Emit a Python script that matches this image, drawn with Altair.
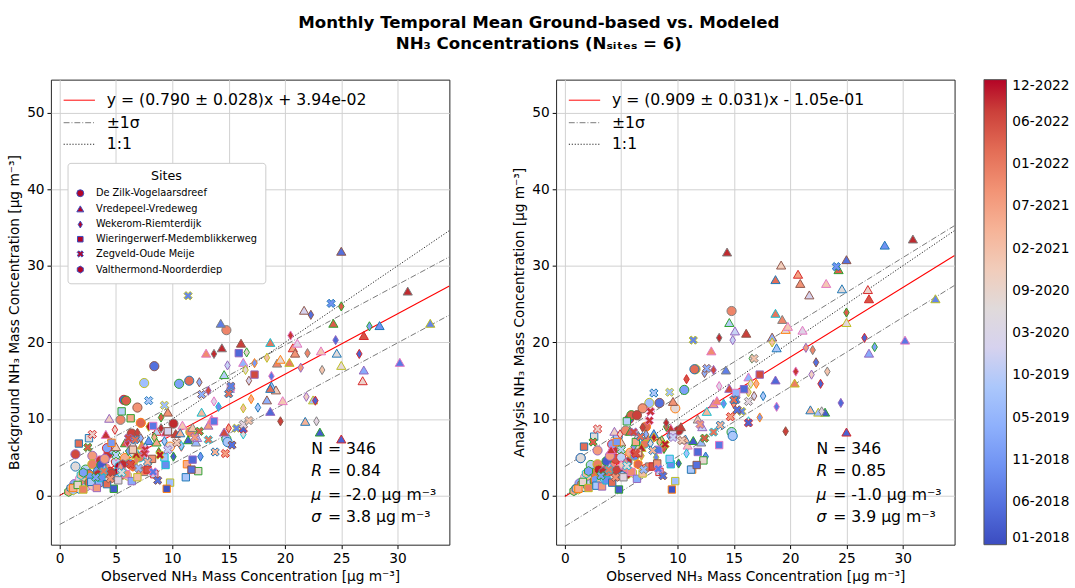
import altair as alt
import pandas as pd

SITES = ["De Zilk-Vogelaarsdreef", "Vredepeel-Vredeweg", "Wekerom-Riemterdijk",
         "Wieringerwerf-Medemblikkerweg", "Zegveld-Oude Meije", "Valthermond-Noorderdiep"]

# month index t: 0 = 01-2018 ... 59 = 12-2022
ZILK_T = [5, 47, 18, 3, 52, 45, 55, 57, 48, 31, 12, 50, 22, 54, 44, 30, 22, 48, 56, 20, 2, 14, 26, 38, 50, 58, 10, 34, 46, 53, 23, 59, 41, 8, 29, 49, 56, 59, 58, 51, 47, 13, 2, 44, 59, 58, 20]
ZILK_OBS = [8.4, 14.8, 7.5, 5.7, 5.9, 6.9, 6.4, 10.1, 11.6, 9.8, 10.6, 11.5, 14.8, 1.4, 2.9, 1.4, 2.3, 2.9, 4.3, 4.7, 1.0, 1.3, 1.8, 2.2, 2.6, 3.0, 3.4, 3.8, 4.1, 4.5, 5.0, 5.3, 5.8, 6.2, 6.6, 7.1, 3.6, 5.6, 4.9, 7.2, 5.4, 4.2, 3.7, 4.0, 5.1, 5.5, 14.9]
ZILK_BG = [16.9, 21.6, 14.7, 12.5, 12.4, 11.5, 8.1, 9.4, 8.3, 6.4, 14.6, 15.0, 7.4, 5.4, 5.2, 3.8, 3.4, 4.1, 5.4, 6.0, 0.8, 1.5, 2.2, 1.9, 2.8, 2.5, 3.2, 2.9, 3.6, 3.1, 4.4, 3.8, 4.9, 4.2, 5.6, 5.0, 4.6, 3.0, 2.6, 9.5, 9.9, 6.2, 4.0, 4.8, 3.0, 2.7, 7.0]
ZILK_AN = [12.1, 24.1, 12.1, 10.0, 10.5, 11.4, 10.5, 8.5, 16.5, 11.4, 13.8, 16.5, 8.3, 4.9, 5.9, 4.9, 4.0, 4.1, 5.9, 7.7, 0.9, 1.6, 2.4, 2.6, 3.0, 3.4, 3.0, 3.9, 4.2, 4.8, 5.0, 3.4, 5.6, 5.2, 6.2, 6.8, 3.3, 3.3, 3.4, 9.0, 8.5, 6.7, 4.5, 5.2, 2.8, 2.8, 7.8]

VRED_T = [5, 57, 8, 10, 52, 6, 28, 14, 33, 53, 3, 2, 18, 40, 25, 43, 45, 26, 36, 30, 48, 47, 31, 49, 55, 57, 46, 7, 16, 22, 20, 15, 36, 35, 24, 50, 4, 44, 54, 36, 2, 34, 56, 45, 55, 40, 17, 23, 35, 52, 27, 48, 10, 42, 56, 37, 24, 46, 39, 58]
VRED_OBS = [25.0, 30.9, 32.9, 28.4, 24.3, 30.2, 25.0, 27.0, 26.9, 27.0, 25.0, 23.1, 22.5, 21.8, 21.7, 20.7, 20.9, 21.1, 23.2, 24.6, 20.4, 19.3, 19.6, 18.7, 16.1, 14.4, 13.0, 14.3, 16.3, 14.6, 18.8, 18.4, 19.8, 19.2, 15.1, 18.7, 18.7, 13.2, 14.6, 10.9, 11.4, 4.4, 4.1, 9.6, 10.3, 10.7, 12.1, 8.6, 5.0, 5.8, 6.5, 7.3, 7.9, 8.6, 9.4, 11.8, 12.2, 13.5, 12.6, 6.8]
VRED_BG = [31.9, 26.7, 22.5, 22.2, 22.5, 17.4, 17.0, 16.4, 15.0, 20.9, 7.4, 8.3, 12.5, 9.7, 24.2, 19.3, 18.6, 19.9, 18.9, 18.6, 17.4, 17.3, 17.8, 20.0, 19.9, 19.3, 18.6, 22.5, 17.4, 15.8, 14.3, 12.5, 12.4, 13.8, 14.0, 14.0, 11.0, 9.2, 8.3, 9.2, 7.3, 10.1, 8.0, 10.9, 8.1, 8.2, 7.0, 8.4, 6.4, 6.9, 6.7, 6.6, 7.2, 7.0, 8.3, 8.9, 7.6, 10.0, 10.9, 5.4]
VRED_AN = [30.8, 33.5, 25.7, 32.7, 29.5, 20.3, 22.6, 18.6, 26.9, 25.7, 8.3, 10.9, 10.9, 11.2, 26.2, 28.9, 27.7, 21.6, 27.7, 27.0, 14.7, 23.0, 21.7, 23.8, 21.2, 31.8, 18.9, 16.4, 15.5, 22.6, 19.3, 20.7, 22.1, 30.1, 21.5, 28.2, 15.1, 12.0, 14.0, 6.6, 7.2, 8.4, 6.0, 12.3, 9.0, 7.4, 7.0, 6.5, 7.0, 8.4, 7.9, 7.7, 8.1, 7.3, 8.8, 10.0, 9.0, 12.4, 11.0, 6.3]

WEKE_T = [5, 52, 56, 4, 3, 12, 47, 44, 37, 34, 3, 55, 27, 6, 11, 38, 24, 28, 25, 41, 20, 38, 15, 54, 26, 9, 43, 57, 32, 53, 2, 33, 52, 57, 19, 29, 10, 39, 24, 44, 12, 48, 30, 8, 52, 20, 56, 36, 15, 55, 58, 42]
WEKE_OBS = [22.3, 25.0, 20.5, 24.5, 26.6, 27.5, 22.0, 21.4, 23.3, 21.9, 22.7, 19.6, 22.8, 18.8, 17.3, 18.4, 14.9, 16.5, 16.8, 17.0, 17.6, 16.3, 12.4, 13.2, 13.7, 14.1, 15.0, 13.7, 16.6, 10.8, 10.1, 4.9, 9.0, 9.0, 10.8, 16.3, 12.5, 3.0, 4.0, 5.4, 6.1, 6.8, 7.6, 8.1, 8.8, 9.3, 6.0, 5.0, 7.2, 6.9, 7.9, 8.4]
WEKE_BG = [23.6, 24.7, 20.9, 20.3, 18.5, 22.1, 18.6, 16.7, 16.4, 12.9, 12.4, 9.7, 9.7, 15.6, 17.3, 18.0, 17.0, 16.4, 15.0, 12.6, 11.5, 11.4, 14.8, 13.7, 12.3, 11.6, 8.8, 18.5, 18.7, 6.4, 5.1, 8.6, 10.2, 8.8, 6.5, 8.0, 5.1, 2.0, 3.4, 3.7, 5.8, 4.6, 6.3, 4.6, 5.7, 7.1, 6.9, 5.1, 7.5, 8.2, 9.0, 7.6]
WEKE_AN = [17.4, 23.9, 16.2, 12.1, 20.6, 19.4, 19.0, 19.3, 16.2, 15.8, 14.6, 8.4, 11.0, 11.6, 10.2, 20.0, 20.3, 14.6, 13.0, 14.6, 13.0, 13.5, 16.0, 16.4, 14.3, 12.0, 12.0, 20.6, 17.9, 15.2, 4.2, 8.0, 9.0, 9.5, 5.5, 9.7, 5.1, 1.8, 3.7, 4.3, 6.4, 5.2, 6.8, 5.0, 6.1, 7.8, 5.7, 4.0, 8.0, 8.9, 7.6, 7.0]

WIER_T = [4, 54, 6, 22, 42, 30, 50, 6, 25, 41, 4, 32, 20, 5, 18, 1, 47, 2, 9, 41, 32, 48, 20, 44, 9, 50, 27, 46, 14, 38, 53, 23, 45, 35, 11, 19, 16]
WIER_OBS = [15.9, 17.3, 13.7, 5.5, 6.3, 2.6, 1.7, 8.3, 9.6, 11.3, 11.8, 12.3, 11.2, 11.7, 9.8, 9.5, 7.5, 4.8, 9.4, 1.2, 1.6, 2.1, 2.8, 3.3, 3.7, 4.2, 5.2, 5.9, 6.4, 6.9, 7.8, 8.4, 8.2, 6.5, 4.6, 9.3, 15.2]
WIER_BG = [18.6, 15.8, 9.7, 11.0, 10.1, 7.5, 6.8, 9.1, 8.4, 4.1, 4.7, 3.2, 2.4, 3.4, 1.7, 0.9, 3.1, 0.9, 4.0, 1.0, 1.4, 0.8, 1.8, 1.0, 2.3, 1.5, 2.0, 2.8, 1.9, 2.4, 3.4, 2.8, 4.8, 6.0, 6.9, 5.0, 14.2]
WIER_AN = [13.9, 15.8, 6.6, 9.7, 7.0, 7.7, 6.4, 6.0, 8.0, 3.4, 5.7, 4.6, 3.4, 4.0, 1.9, 0.8, 3.8, 0.8, 4.1, 0.9, 1.8, 1.0, 1.3, 1.2, 2.0, 1.7, 2.4, 3.1, 2.2, 2.9, 3.8, 3.1, 4.2, 5.6, 7.0, 4.8, 13.4]

ZEGV_T = [8, 10, 7, 50, 15, 8, 3, 27, 5, 52, 49, 40, 43, 20, 18, 52, 33, 5, 6, 44, 56, 56, 37, 12, 45, 29, 53, 17, 40, 58, 24, 35, 50, 22, 49, 54]
ZEGV_OBS = [11.4, 24.1, 15.2, 15.0, 12.6, 15.7, 16.3, 16.3, 15.3, 12.4, 13.2, 13.8, 14.7, 7.9, 9.3, 2.5, 2.9, 8.7, 8.3, 12.0, 7.6, 7.5, 16.8, 3.2, 4.5, 5.5, 6.3, 7.0, 7.8, 8.9, 9.6, 10.4, 6.7, 5.0, 3.9, 6.1]
ZEGV_BG = [26.1, 25.1, 14.3, 13.3, 13.2, 8.8, 8.7, 9.3, 6.6, 8.4, 7.3, 5.7, 5.5, 12.4, 11.8, 6.3, 8.0, 2.0, 3.1, 7.6, 6.0, 5.5, 9.8, 2.4, 2.2, 3.0, 4.1, 3.6, 4.4, 5.3, 6.0, 6.9, 7.3, 5.3, 3.2, 7.5]
ZEGV_AN = [20.3, 29.9, 12.5, 12.5, 16.6, 11.0, 9.5, 12.3, 11.2, 7.5, 8.3, 9.2, 10.3, 13.4, 13.5, 7.0, 8.7, 2.6, 3.5, 9.3, 11.0, 9.8, 17.9, 2.6, 2.4, 3.9, 5.5, 3.4, 5.9, 6.7, 7.6, 7.2, 7.7, 6.0, 3.4, 8.3]

VALT_T = [42, 40, 18, 45, 30, 47, 24, 52, 36, 44, 15, 49, 33, 55, 20, 46, 28, 51, 43, 11, 39, 57, 57, 12]
VALT_OBS = [0.8, 1.0, 1.2, 1.5, 1.7, 2.0, 2.3, 2.6, 2.9, 3.2, 3.5, 3.9, 4.2, 4.6, 5.1, 5.5, 6.0, 6.5, 7.2, 2.7, 1.9, 3.4, 5.6, 2.1]
VALT_BG = [0.5, 1.0, 0.7, 1.2, 0.9, 1.4, 1.1, 1.7, 1.3, 2.0, 1.6, 2.4, 1.9, 2.9, 2.2, 3.3, 2.6, 3.8, 3.2, 2.5, 2.7, 2.8, 4.1, 3.0]
VALT_AN = [0.6, 0.9, 0.8, 1.5, 1.1, 1.3, 1.6, 1.9, 1.5, 2.3, 2.0, 2.8, 2.2, 3.3, 2.6, 3.6, 3.0, 4.1, 3.6, 2.1, 2.9, 3.1, 4.4, 3.2]

COLORBAR_LABELS = ["01-2018", "06-2018", "11-2018", "05-2019", "10-2019", "03-2020",
                   "09-2020", "02-2021", "07-2021", "01-2022", "06-2022", "12-2022"]
T_MAX = 59

FIT_BG = {"slope": 0.790, "err": 0.028, "icpt": 0.0394, "sigma": 3.8,
          "eq": "y = (0.790 \u00b1 0.028)x + 3.94e-02", "N": 346, "R": "0.84", "mu": "-2.0", "sd": "3.8"}
FIT_AN = {"slope": 0.909, "err": 0.031, "icpt": -0.105, "sigma": 3.9,
          "eq": "y = (0.909 \u00b1 0.031)x - 1.05e-01", "N": 346, "R": "0.85", "mu": "-1.0", "sd": "3.9"}

# ---------------------------------------------------------------- tables
frames = []
for name, t, o, b, a in [
    (SITES[0], ZILK_T, ZILK_OBS, ZILK_BG, ZILK_AN),
    (SITES[1], VRED_T, VRED_OBS, VRED_BG, VRED_AN),
    (SITES[2], WEKE_T, WEKE_OBS, WEKE_BG, WEKE_AN),
    (SITES[3], WIER_T, WIER_OBS, WIER_BG, WIER_AN),
    (SITES[4], ZEGV_T, ZEGV_OBS, ZEGV_BG, ZEGV_AN),
    (SITES[5], VALT_T, VALT_OBS, VALT_BG, VALT_AN),
]:
    frames.append(pd.DataFrame({"site": name, "t": t, "obs": o, "bg": b, "an": a}))
points = pd.concat(frames, ignore_index=True)

FONT = "DejaVu Sans"
X_DOM = [-0.78, 34.6]
Y_DOM = [-6.4, 54.3]
W, H = 407, 475

COOLWARM = ["#3b4cc0", "#5977e3", "#7b9ff9", "#9ebeff", "#c0d4f5", "#dddcdc",
            "#f2cbb7", "#f7ac8e", "#ee8468", "#d65244", "#b40426"]
TAB10 = ["#1f77b4", "#ff7f0e", "#2ca02c", "#d62728", "#9467bd",
         "#8c564b", "#e377c2", "#7f7f7f", "#bcbd22", "#17becf"]
SHAPES = ["circle", "triangle-up", "M0,-1L0.6,0L0,1L-0.6,0Z", "M-0.8,-0.8L0.8,-0.8L0.8,0.8L-0.8,0.8Z",
          "M-0.9,-0.45L-0.45,-0.9L0,-0.45L0.45,-0.9L0.9,-0.45L0.45,0L0.9,0.45L0.45,0.9L0,0.45L-0.45,0.9L-0.9,0.45L-0.45,0Z",
          "M0,-1L0.866,-0.5L0.866,0.5L0,1L-0.866,0.5L-0.866,-0.5Z"]

X_TITLE = "Observed NH\u2083 Mass Concentration [\u03bcg m\u207b\u00b3]"

tick_vals = [i * T_MAX / (len(COLORBAR_LABELS) - 1) for i in range(len(COLORBAR_LABELS))]
label_expr = "[" + ",".join("'%s'" % s for s in COLORBAR_LABELS) + "][round(datum.value*%d/%d)]" % (
    len(COLORBAR_LABELS) - 1, T_MAX)

XS = alt.Scale(domain=X_DOM, nice=False, zero=False)
YS = alt.Scale(domain=Y_DOM, nice=False, zero=False)
AX_X = alt.Axis(values=[0, 5, 10, 15, 20, 25, 30], title=X_TITLE)


def one():
    return pd.DataFrame({"k": [0]})


def panel(ycol, ytitle, fit):
    ax_y = alt.Axis(values=[0, 10, 20, 30, 40, 50], title=ytitle)
    pts = alt.Chart(points).transform_calculate(edge="datum.t % 10").mark_point(
        filled=True, size=88, strokeWidth=1, opacity=1, fillOpacity=1
    ).encode(
        x=alt.X("obs:Q", scale=XS, axis=AX_X),
        y=alt.Y(f"{ycol}:Q", scale=YS, axis=ax_y),
        fill=alt.Fill("t:Q", scale=alt.Scale(domain=[0, T_MAX], range=COOLWARM),
                      legend=alt.Legend(title=None, orient="right", direction="vertical",
                                        gradientLength=H, gradientThickness=23, values=tick_vals,
                                        labelExpr=label_expr, labelFontSize=14, labelFont=FONT,
                                        labelColor="black", offset=29, padding=0,
                                        gradientStrokeColor="#555", gradientStrokeWidth=1,
                                        labelOverlap=False, labelOffset=6)),
        stroke=alt.Stroke("edge:N", scale=alt.Scale(range=TAB10), legend=None),
        shape=alt.Shape("site:N", scale=alt.Scale(domain=SITES, range=SHAPES),
                        legend=alt.Legend(title="Sites", orient="none", legendX=17, legendY=85,
                                          titleFontSize=13, titleFont=FONT, titleFontWeight="normal",
                                          titleAnchor="middle", titleColor="black",
                                          labelFontSize=10, labelFont=FONT, labelColor="black",
                                          labelLimit=400,
                                          symbolSize=50, symbolFillColor="#b40426",
                                          symbolStrokeColor="#3b4cc0", symbolStrokeWidth=1,
                                          strokeColor="#cccccc", fillColor="white", padding=8,
                                          cornerRadius=3, rowPadding=4, labelOffset=11)),
        order=alt.Order("site:N"),
    )

    xr = [0, X_DOM[1]]
    s, c, sg = fit["slope"], fit["icpt"], fit["sigma"]
    lines = pd.DataFrame({
        "x": xr * 4,
        "y": [c + s * v for v in xr] + [c + sg + s * v for v in xr] + [c - sg + s * v for v in xr] + list(xr),
        "kind": ["fit"] * 2 + ["up"] * 2 + ["lo"] * 2 + ["one"] * 2,
    })
    base = alt.Chart(lines).encode(x=alt.X("x:Q", scale=XS, axis=AX_X),
                                   y=alt.Y("y:Q", scale=YS, axis=ax_y), detail="kind:N")
    fit_line = base.transform_filter("datum.kind == 'fit'").mark_line(color="red", strokeWidth=1.1, clip=True)
    sig_line = base.transform_filter("datum.kind == 'up' || datum.kind == 'lo'").mark_line(
        color="#777777", strokeWidth=1, strokeDash=[6, 2, 1, 2], clip=True)
    one_line = base.transform_filter("datum.kind == 'one'").mark_line(
        color="#222222", strokeWidth=1, strokeDash=[1.2, 1.8], clip=True)

    layers = [fit_line, sig_line, one_line, pts]

    # line key (top-left)
    lx0, lx1, tx = 13, 45, 57
    for yy, col, dash, label in [(21, "red", None, fit["eq"]), (44, "#777777", [6, 2, 1, 2], "\u00b11\u03c3"),
                                 (66, "#222222", [1.2, 1.8], "1:1")]:
        kw = dict(color=col, strokeWidth=1)
        if dash:
            kw["strokeDash"] = dash
        layers.append(alt.Chart(one()).mark_rule(**kw).encode(
            x=alt.value(lx0), x2=alt.value(lx1), y=alt.value(yy)))
        layers.append(alt.Chart(one()).mark_text(align="left", baseline="middle", fontSize=16, font=FONT,
                                                 color="black").encode(
            x=alt.value(tx), y=alt.value(yy), text=alt.value(label)))

    # stats (bottom-right)
    sx = 266
    stat_rows = [(377, None, "N = %d" % fit["N"]), (400, "R", "= " + fit["R"]),
                 (424, "\u03bc", "= %s \u03bcg m\u207b\u00b3" % fit["mu"]),
                 (447, "\u03c3", "= %s \u03bcg m\u207b\u00b3" % fit["sd"])]
    for yy, sym, rest in stat_rows:
        if sym is None:
            layers.append(alt.Chart(one()).mark_text(align="left", baseline="middle", fontSize=16, font=FONT,
                                                     color="black").encode(
                x=alt.value(sx), y=alt.value(yy), text=alt.value(rest)))
        else:
            layers.append(alt.Chart(one()).mark_text(align="left", baseline="middle", fontSize=16, font=FONT,
                                                     fontStyle="italic", color="black").encode(
                x=alt.value(sx), y=alt.value(yy), text=alt.value(sym)))
            layers.append(alt.Chart(one()).mark_text(align="left", baseline="middle", fontSize=16, font=FONT,
                                                     color="black").encode(
                x=alt.value(sx + 17), y=alt.value(yy), text=alt.value(rest)))
    return alt.layer(*layers).properties(width=W, height=H)


left = panel("bg", "Background NH\u2083 Mass Concentration [\u03bcg m\u207b\u00b3]", FIT_BG)
right = panel("an", "Analysis NH\u2083 Mass Concentration [\u03bcg m\u207b\u00b3]", FIT_AN)

chart = alt.hconcat(left, right, spacing=63).properties(
    title=alt.TitleParams(["Monthly Temporal Mean Ground-based vs. Modeled",
                           "NH\u2083 Concentrations (N\u209b\u1d62\u209c\u2091\u209b = 6)"],
                          anchor="middle", fontSize=17, fontWeight="bold", font=FONT,
                          color="black", offset=27, lineHeight=21, frame="bounds"),
    padding={"left": 7, "top": 8, "right": 5, "bottom": 2},
).configure_view(stroke="#222222", strokeWidth=1).configure_axis(
    labelFont=FONT, titleFont=FONT, labelFontSize=14, titleFontSize=14, labelColor="black",
    titleColor="black", titleFontWeight="normal", grid=True, gridColor="#d0d0d0", gridWidth=1,
    domain=False, tickColor="black", tickSize=4, labelPadding=3, titlePadding=5,
)

chart.save("out.html", embed_options={"renderer": "svg", "actions": False})
